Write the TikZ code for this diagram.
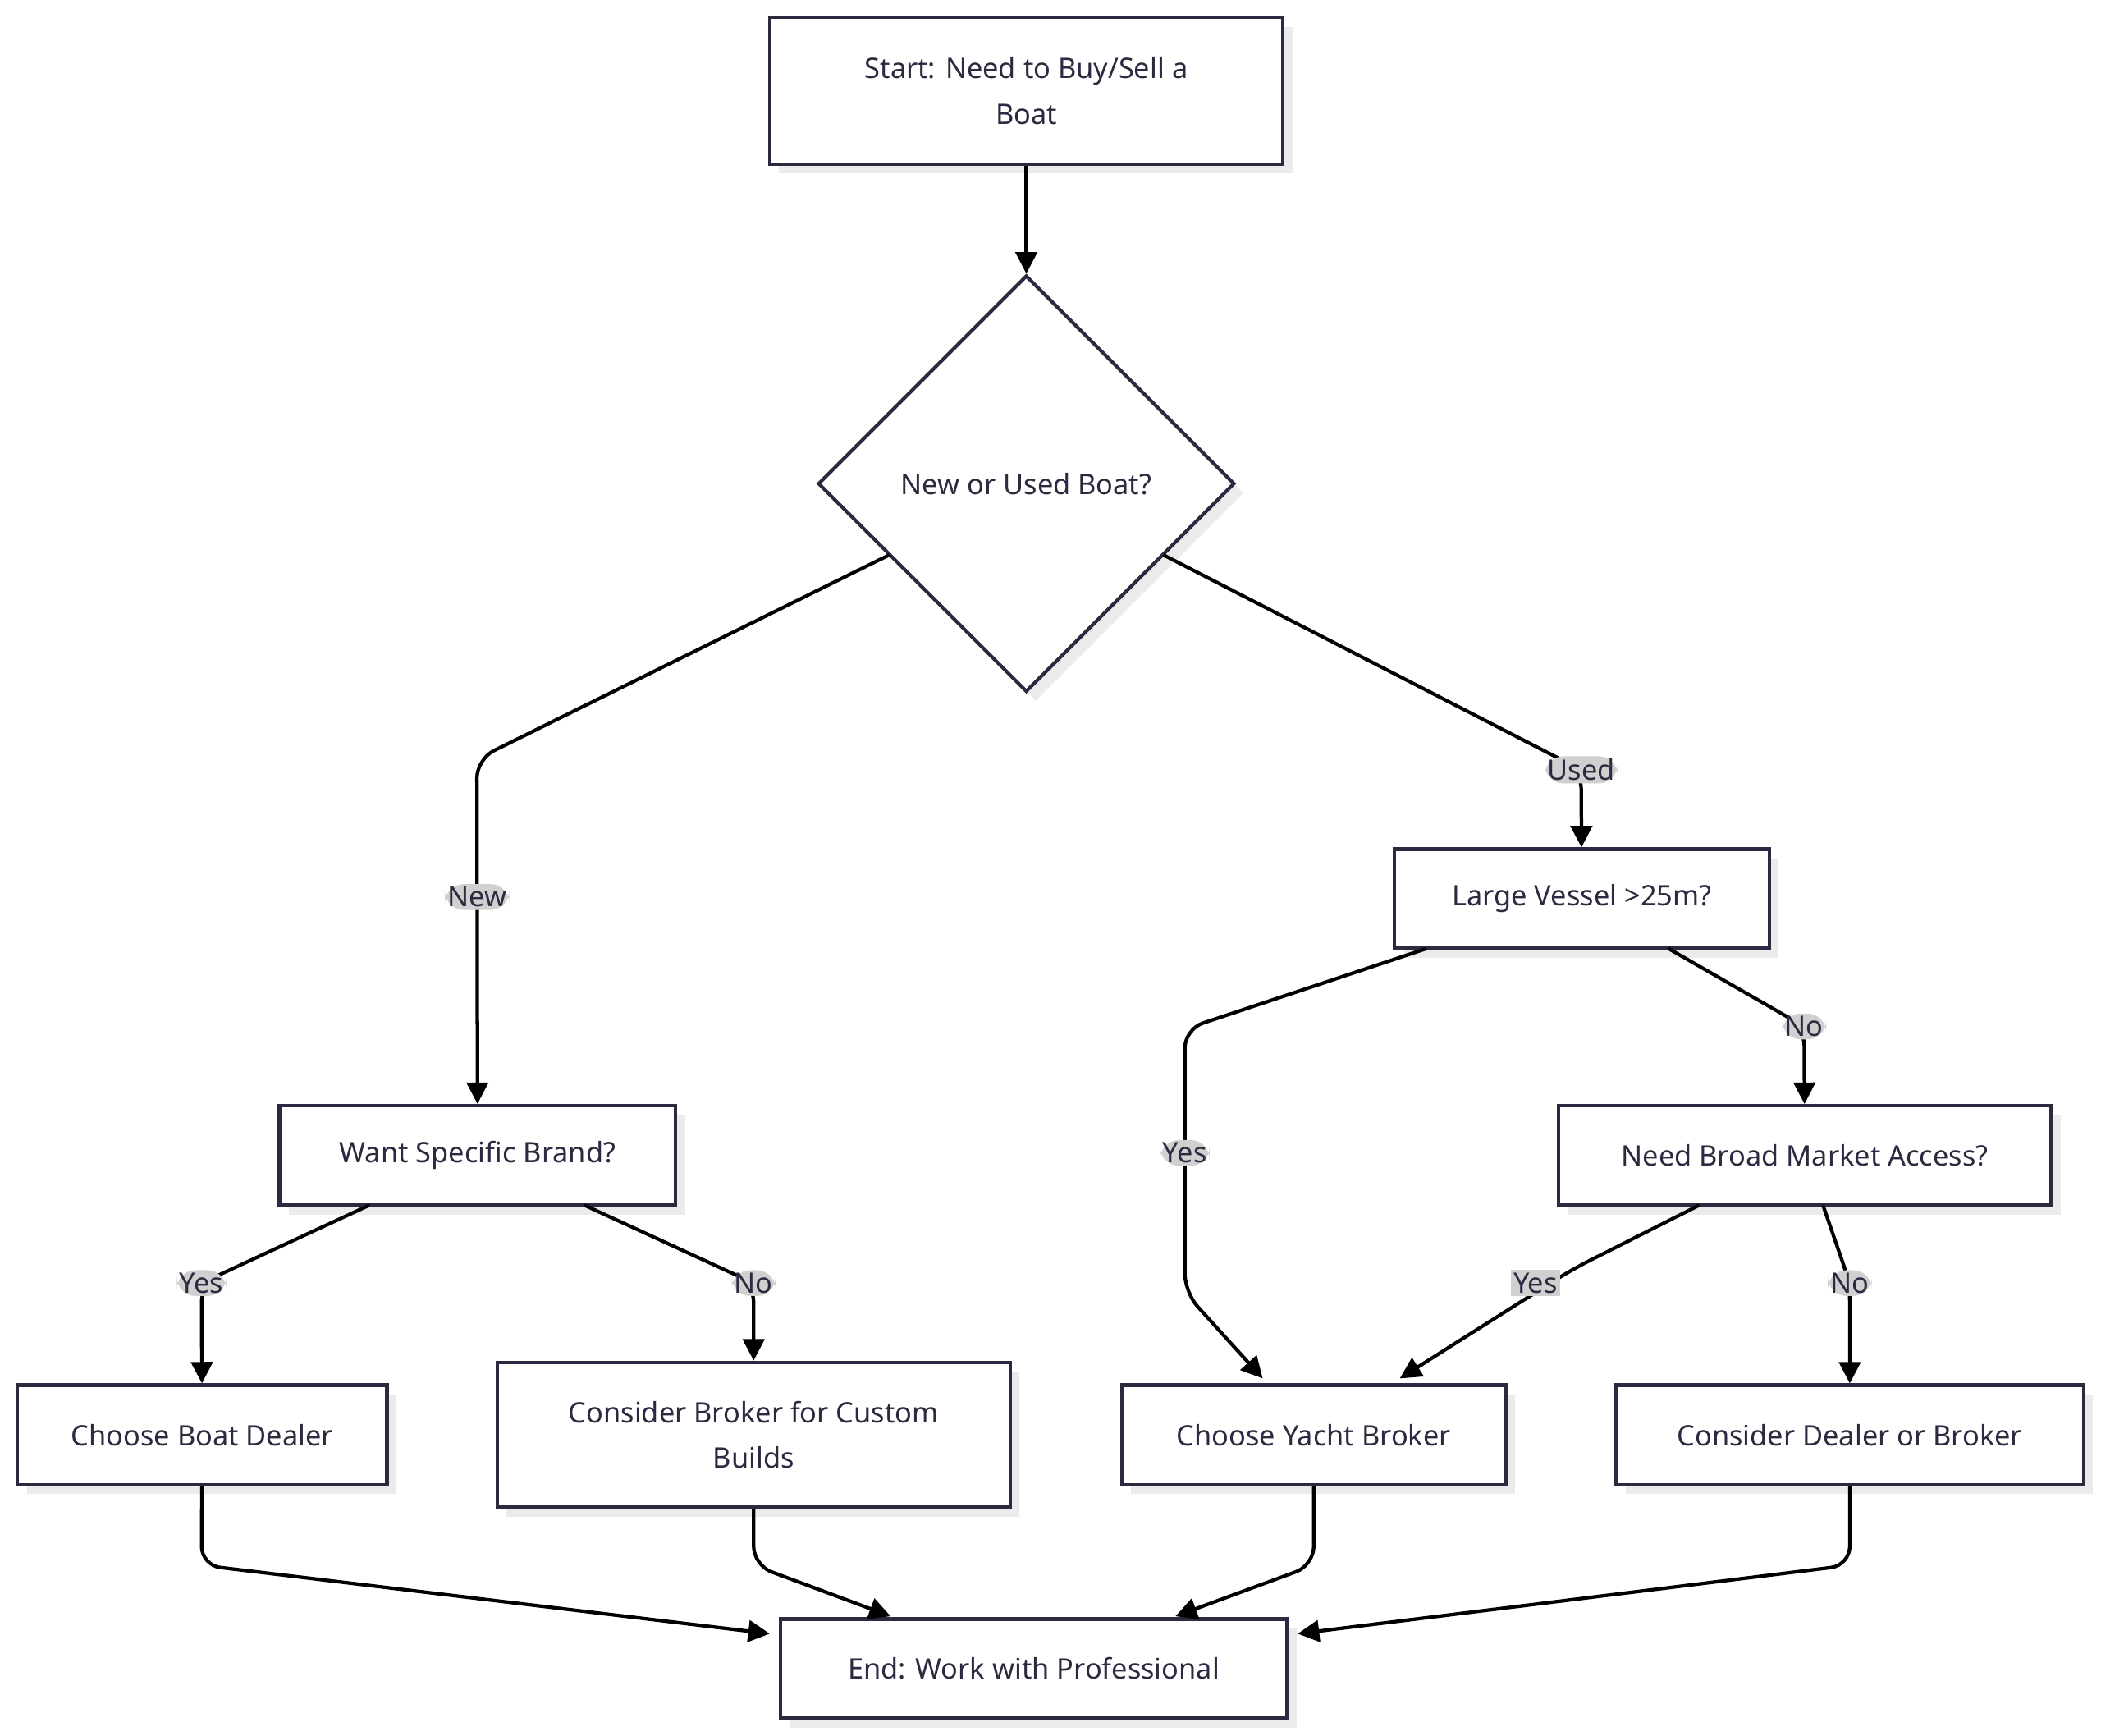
\documentclass[tikz,border=0pt]{standalone}
\usepackage{fontspec}
\setmainfont{Noto Sans}
\usetikzlibrary{shapes.geometric,shadows,arrows.meta}
\definecolor{ln}{HTML}{2B2A40}
\definecolor{lbl}{HTML}{D0D0D0}
\begin{document}
\begin{tikzpicture}[x=1pt,y=-1pt,
 box/.style={draw=ln,line width=2.6pt,fill=white,align=center,inner sep=0pt,
   font=\fontsize{21}{34}\selectfont,text=ln,
   drop shadow={shadow xshift=7pt,shadow yshift=-7pt,fill=black!8,opacity=1}},
 dia/.style={box,diamond,aspect=1},
 e/.style={draw=black,line width=2.6pt,rounded corners=14pt,-{Triangle[length=16pt,width=16pt]}},
 el/.style={fill=lbl,text=ln,inner sep=2pt,font=\fontsize{21}{25}\selectfont}]
\useasboundingbox (0,0) rectangle (1564,1292);
\node[box,minimum width=382pt,minimum height=109pt] (start) at (764,67.5) {Start: Need to Buy/Sell a\\Boat};
\node[dia,minimum width=310pt,minimum height=310pt] (q1) at (764,360) {New or Used Boat?};
\node[box,minimum width=295pt,minimum height=74pt] (want) at (355.5,860) {Want Specific Brand?};
\node[box,minimum width=279pt,minimum height=74pt] (large) at (1177.5,669) {Large Vessel >25m?};
\node[box,minimum width=367pt,minimum height=74pt] (need) at (1343.5,860) {Need Broad Market Access?};
\node[box,minimum width=275pt,minimum height=74pt] (dealer) at (150.5,1068) {Choose Boat Dealer};
\node[box,minimum width=382pt,minimum height=108pt] (custom) at (561,1068) {Consider Broker for Custom\\Builds};
\node[box,minimum width=286pt,minimum height=74pt] (yacht) at (978,1068) {Choose Yacht Broker};
\node[box,minimum width=348pt,minimum height=74pt] (cons) at (1377,1068) {Consider Dealer or Broker};
\node[box,minimum width=377pt,minimum height=74pt] (end) at (769.5,1242) {End: Work with Professional};
% waypoints
\coordinate (d1) at (662,413); \coordinate (d2) at (355,565);
\coordinate (d3) at (866,413); \coordinate (d4) at (1177,573);
\coordinate (l1) at (1062,706); \coordinate (l2) at (882,766); \coordinate (l3) at (882,962);
\coordinate (l4) at (1242,706); \coordinate (l5) at (1343,764);
\coordinate (w1) at (275,897); \coordinate (w2) at (150,955);
\coordinate (w3) at (435,897); \coordinate (w4) at (561,955);
\coordinate (n1) at (1265,897); \coordinate (n2) at (1170,945);
\coordinate (n3) at (1357,897); \coordinate (n4) at (1377,955);
\coordinate (b1) at (150,1165); \coordinate (b2) at (561,1165);
\coordinate (b3) at (978,1165); \coordinate (b4) at (1377,1165);
\draw[e] (start) -- (q1);
\draw[e] (d1) -- (d2) -- node[el,pos=0.4]{New} (want);
\draw[e] (d3) -- (d4) node[el]{Used} -- (large);
\draw[e] (l1) -- (l2) -- node[el,pos=0.47]{Yes} (l3) -- (940,1026);
\draw[e] (l4) -- (l5) node[el]{No} -- (need);
\draw[e] (w1) -- (w2) node[el]{Yes} -- (dealer);
\draw[e] (w3) -- (w4) node[el]{No} -- (custom);
\draw[e] (n1) -- (n2) -- (1042,1026);
\node[el] at (1143,955) {Yes};
\draw[e] (n3) -- (n4) node[el]{No} -- (cons);
\draw[e] (dealer) -- (b1) -- (573,1216);
\draw[e] (custom) -- (b2) -- (663,1203);
\draw[e] (yacht) -- (b3) -- (875,1203);
\draw[e] (cons) -- (b4) -- (966,1216);
\end{tikzpicture}
\end{document}
